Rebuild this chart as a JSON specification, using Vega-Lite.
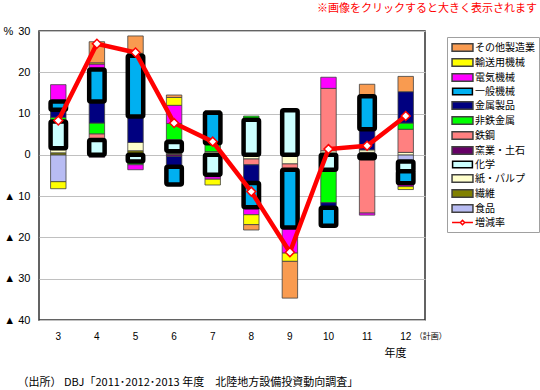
{
  "$schema": "https://vega.github.io/schema/vega-lite/v6.json",
  "width": 386,
  "height": 289,
  "autosize": {"type": "none"},
  "padding": {"left": 39, "top": 31, "right": 115, "bottom": 70},
  "background": "white",
  "config": {
    "view": {"stroke": "#303030", "strokeWidth": 1.5},
    "font": "Noto Sans CJK JP"
  },
  "title": {
    "text": "※画像をクリックすると大きく表示されます",
    "orient": "top",
    "anchor": "end",
    "frame": "group",
    "dx": 112,
    "offset": 11,
    "color": "#ff0000",
    "fontSize": 11,
    "fontWeight": "normal",
    "font": "Noto Sans CJK JP"
  },
  "datasets": {
    "contrib": [
      {"year": 3, "industry": "食品", "value": -6.5},
      {"year": 3, "industry": "繊維", "value": 0.5},
      {"year": 3, "industry": "紙・パルプ", "value": 1.1},
      {"year": 3, "industry": "化学", "value": 6.5},
      {"year": 3, "industry": "非鉄金属", "value": 1.0},
      {"year": 3, "industry": "金属製品", "value": 1.8},
      {"year": 3, "industry": "一般機械", "value": 2.0},
      {"year": 3, "industry": "電気機械", "value": 4.1},
      {"year": 3, "industry": "輸送用機械", "value": -1.7},
      {"year": 4, "industry": "化学", "value": 3.6},
      {"year": 4, "industry": "窯業・土石", "value": -0.6},
      {"year": 4, "industry": "鉄鋼", "value": 1.5},
      {"year": 4, "industry": "非鉄金属", "value": 2.6},
      {"year": 4, "industry": "金属製品", "value": 5.2},
      {"year": 4, "industry": "一般機械", "value": 7.8},
      {"year": 4, "industry": "電気機械", "value": 1.3},
      {"year": 4, "industry": "輸送用機械", "value": 0.3},
      {"year": 4, "industry": "その他製造業", "value": 5.1},
      {"year": 5, "industry": "繊維", "value": 1.0},
      {"year": 5, "industry": "紙・パルプ", "value": 2.0},
      {"year": 5, "industry": "化学", "value": -1.6},
      {"year": 5, "industry": "非鉄金属", "value": -0.8},
      {"year": 5, "industry": "金属製品", "value": 6.3},
      {"year": 5, "industry": "一般機械", "value": 14.7},
      {"year": 5, "industry": "電気機械", "value": -1.2},
      {"year": 5, "industry": "輸送用機械", "value": 0.6},
      {"year": 5, "industry": "その他製造業", "value": 4.2},
      {"year": 6, "industry": "繊維", "value": 0.3},
      {"year": 6, "industry": "紙・パルプ", "value": 0.6},
      {"year": 6, "industry": "化学", "value": 2.2},
      {"year": 6, "industry": "窯業・土石", "value": -0.4},
      {"year": 6, "industry": "鉄鋼", "value": 0.6},
      {"year": 6, "industry": "非鉄金属", "value": 3.9},
      {"year": 6, "industry": "金属製品", "value": -2.5},
      {"year": 6, "industry": "一般機械", "value": -4.3},
      {"year": 6, "industry": "電気機械", "value": 4.4},
      {"year": 6, "industry": "輸送用機械", "value": 1.9},
      {"year": 6, "industry": "その他製造業", "value": 0.6},
      {"year": 7, "industry": "繊維", "value": 0.3},
      {"year": 7, "industry": "紙・パルプ", "value": 0.5},
      {"year": 7, "industry": "化学", "value": -4.8},
      {"year": 7, "industry": "非鉄金属", "value": 2.0},
      {"year": 7, "industry": "金属製品", "value": -0.5},
      {"year": 7, "industry": "一般機械", "value": 7.4},
      {"year": 7, "industry": "電気機械", "value": -0.6},
      {"year": 7, "industry": "輸送用機械", "value": -1.4},
      {"year": 7, "industry": "その他製造業", "value": 0.5},
      {"year": 8, "industry": "紙・パルプ", "value": -1.0},
      {"year": 8, "industry": "化学", "value": 8.5},
      {"year": 8, "industry": "鉄鋼", "value": -1.4},
      {"year": 8, "industry": "非鉄金属", "value": 0.9},
      {"year": 8, "industry": "金属製品", "value": -4.4},
      {"year": 8, "industry": "一般機械", "value": -5.9},
      {"year": 8, "industry": "電気機械", "value": -1.8},
      {"year": 8, "industry": "輸送用機械", "value": -2.4},
      {"year": 8, "industry": "その他製造業", "value": -1.3},
      {"year": 9, "industry": "繊維", "value": -0.3},
      {"year": 9, "industry": "紙・パルプ", "value": -1.9},
      {"year": 9, "industry": "化学", "value": 10.8},
      {"year": 9, "industry": "鉄鋼", "value": -1.4},
      {"year": 9, "industry": "一般機械", "value": -14.0},
      {"year": 9, "industry": "電気機械", "value": -6.2},
      {"year": 9, "industry": "輸送用機械", "value": -2.0},
      {"year": 9, "industry": "その他製造業", "value": -8.9},
      {"year": 10, "industry": "紙・パルプ", "value": 1.0},
      {"year": 10, "industry": "化学", "value": -3.6},
      {"year": 10, "industry": "鉄鋼", "value": 15.1},
      {"year": 10, "industry": "非鉄金属", "value": -8.0},
      {"year": 10, "industry": "金属製品", "value": -1.2},
      {"year": 10, "industry": "一般機械", "value": -4.4},
      {"year": 10, "industry": "電気機械", "value": 2.7},
      {"year": 11, "industry": "食品", "value": 0.4},
      {"year": 11, "industry": "繊維", "value": 0.2},
      {"year": 11, "industry": "紙・パルプ", "value": 0.6},
      {"year": 11, "industry": "化学", "value": -0.8},
      {"year": 11, "industry": "鉄鋼", "value": -13.3},
      {"year": 11, "industry": "金属製品", "value": 5.0},
      {"year": 11, "industry": "一般機械", "value": 8.0},
      {"year": 11, "industry": "電気機械", "value": -0.5},
      {"year": 11, "industry": "その他製造業", "value": 2.9},
      {"year": 12, "industry": "食品", "value": -1.6},
      {"year": 12, "industry": "紙・パルプ", "value": 0.6},
      {"year": 12, "industry": "化学", "value": -2.4},
      {"year": 12, "industry": "鉄鋼", "value": 5.6},
      {"year": 12, "industry": "非鉄金属", "value": 1.5},
      {"year": 12, "industry": "金属製品", "value": 7.6},
      {"year": 12, "industry": "一般機械", "value": -2.9},
      {"year": 12, "industry": "電気機械", "value": -0.8},
      {"year": 12, "industry": "輸送用機械", "value": -0.7},
      {"year": 12, "industry": "その他製造業", "value": 3.7}
    ],
    "growth": [
      {"year": 3, "rate": 8.3},
      {"year": 4, "rate": 26.9},
      {"year": 5, "rate": 24.8},
      {"year": 6, "rate": 7.7},
      {"year": 7, "rate": 3.2},
      {"year": 8, "rate": -8.9},
      {"year": 9, "rate": -23.6},
      {"year": 10, "rate": 1.4},
      {"year": 11, "rate": 2.2},
      {"year": 12, "rate": 9.4}
    ]
  },
  "layer": [
    {
      "data": {"name": "contrib"},
      "transform": [
        {"calculate": "indexof(['食品','繊維','紙・パルプ','化学','窯業・土石','鉄鋼','非鉄金属','金属製品','一般機械','電気機械','輸送用機械','その他製造業'], datum.industry)", "as": "rank"},
        {"stack": "value", "groupby": ["year"], "sort": [{"field": "rank", "order": "ascending"}], "as": ["v0", "v1"], "offset": "zero"}
      ],
      "encoding": {
        "x": {
          "field": "year",
          "type": "ordinal",
          "sort": "ascending",
          "scale": {"paddingInner": 0.6, "paddingOuter": 0.3},
          "axis": {
            "orient": "bottom",
            "title": "年度",
            "titleX": 356,
            "titleY": 33,
            "titleAlign": "center",
            "titleBaseline": "middle",
            "titleFontSize": 11,
            "titleFontWeight": "normal",
            "titleColor": "#000000",
            "titleFont": "Noto Sans CJK JP",
            "labelAngle": 0,
            "labelFont": "Liberation Sans",
            "labelFontSize": 10,
            "labelColor": "#000000",
            "labelPadding": 11,
            "ticks": false,
            "tickSize": 0,
            "domain": false,
            "grid": false
          }
        },
        "y": {
          "field": "v0",
          "type": "quantitative",
          "scale": {"domain": [-40, 30], "nice": false, "zero": false},
          "axis": {
            "title": "%",
            "titleAngle": 0,
            "titleX": -36,
            "titleY": 0,
            "titleAlign": "left",
            "titleBaseline": "middle",
            "titleFontSize": 11,
            "titleFontWeight": "normal",
            "titleFont": "Liberation Sans",
            "titleColor": "#000000",
            "values": [-40, -30, -20, -10, 0, 10, 20, 30],
            "labelExpr": "datum.value < 0 ? '▲ ' + abs(datum.value) : datum.label",
            "labelFont": "Liberation Sans",
            "labelFontSize": 11,
            "labelColor": "#000000",
            "labelPadding": 9,
            "ticks": false,
            "tickSize": 0,
            "domain": false,
            "grid": true,
            "gridColor": "#c0c0c0",
            "gridWidth": 1
          }
        },
        "y2": {"field": "v1"},
        "color": {
          "field": "industry",
          "type": "nominal",
          "scale": {
            "domain": ["その他製造業", "輸送用機械", "電気機械", "一般機械", "金属製品", "非鉄金属", "鉄鋼", "窯業・土石", "化学", "紙・パルプ", "繊維", "食品", "増減率"],
            "range": ["#f99b50", "#ffff00", "#ff00ff", "#00b0f0", "#000080", "#00ff00", "#ff8080", "#660066", "#ccffff", "#ffffcc", "#808000", "#b8bcf3", "#ffffff"]
          },
          "legend": {
            "orient": "none",
            "legendX": 408,
            "legendY": 6,
            "title": null,
            "strokeColor": "#a0a0a0",
            "fillColor": "#ffffff",
            "padding": 4,
            "symbolSize": 121,
            "symbolOpacity": 1,
            "symbolOffset": 5,
            "labelFont": "Noto Sans CJK JP",
            "labelFontSize": 10,
            "labelColor": "#000000",
            "labelOffset": 6,
            "rowPadding": 0
          }
        }
      },
      "layer": [
        {
          "mark": {"type": "point", "filled": true, "opacity": 0, "strokeWidth": 1.6},
          "encoding": {
            "y2": null,
            "stroke": {
              "field": "industry",
              "type": "nominal",
              "scale": {
                "domain": ["その他製造業", "輸送用機械", "電気機械", "一般機械", "金属製品", "非鉄金属", "鉄鋼", "窯業・土石", "化学", "紙・パルプ", "繊維", "食品", "増減率"],
                "range": ["#404040", "#404040", "#404040", "#000000", "#404040", "#404040", "#404040", "#404040", "#000000", "#404040", "#404040", "#404040", "#ff0000"]
              },
              "legend": {
                "orient": "none",
                "legendX": 408,
                "legendY": 6,
                "title": null,
                "strokeColor": "#a0a0a0",
                "fillColor": "#ffffff",
                "padding": 4,
                "symbolSize": 121,
                "symbolOpacity": 1,
                "symbolOffset": 5,
                "labelFont": "Noto Sans CJK JP",
                "labelFontSize": 10,
                "labelColor": "#000000",
                "labelOffset": 6,
                "rowPadding": 0
              }
            },
            "shape": {
              "field": "industry",
              "type": "nominal",
              "scale": {
                "domain": ["その他製造業", "輸送用機械", "電気機械", "一般機械", "金属製品", "非鉄金属", "鉄鋼", "窯業・土石", "化学", "紙・パルプ", "繊維", "食品", "増減率"],
                "range": ["M-1.9,-0.7H1.9V0.7H-1.9Z", "M-1.9,-0.7H1.9V0.7H-1.9Z", "M-1.9,-0.7H1.9V0.7H-1.9Z", "M-1.8,-0.6H1.8V0.6H-1.8Z", "M-1.9,-0.7H1.9V0.7H-1.9Z", "M-1.9,-0.7H1.9V0.7H-1.9Z", "M-1.9,-0.7H1.9V0.7H-1.9Z", "M-1.9,-0.7H1.9V0.7H-1.9Z", "M-1.8,-0.6H1.8V0.6H-1.8Z", "M-1.9,-0.7H1.9V0.7H-1.9Z", "M-1.9,-0.7H1.9V0.7H-1.9Z", "M-1.9,-0.7H1.9V0.7H-1.9Z", "M-1.9,0H-0.4M0.4,0H1.9M-0.4,0L0,-0.4L0.4,0L0,0.4Z"]
              },
              "legend": {
                "orient": "none",
                "legendX": 408,
                "legendY": 6,
                "title": null,
                "strokeColor": "#a0a0a0",
                "fillColor": "#ffffff",
                "padding": 4,
                "symbolSize": 121,
                "symbolOpacity": 1,
                "symbolOffset": 5,
                "labelFont": "Noto Sans CJK JP",
                "labelFontSize": 10,
                "labelColor": "#000000",
                "labelOffset": 6,
                "rowPadding": 0
              }
            }
          }
        },
        {
          "transform": [{"filter": "datum.industry !== '一般機械' && datum.industry !== '化学'"}],
          "mark": {"type": "bar", "stroke": "#404040", "strokeWidth": 0.8}
        },
        {
          "transform": [{"filter": "datum.industry === '一般機械' || datum.industry === '化学'"}],
          "mark": {"type": "bar", "stroke": "#000000", "strokeWidth": 4.5, "strokeJoin": "round", "cornerRadius": 1.5}
        }
      ]
    },
    {
      "data": {"name": "growth"},
      "encoding": {
        "x": {
          "field": "year",
          "type": "ordinal",
          "sort": "ascending",
          "axis": {
            "orient": "bottom",
            "offset": -165,
            "domain": false,
            "ticks": false,
            "tickSize": 0,
            "labels": true,
            "labelExpr": "datum.value == 12 ? '（計画）' : ''",
            "labelAlign": "left",
            "labelBaseline": "middle",
            "labelOffset": 9,
            "labelPadding": 181,
            "labelAngle": 0,
            "labelFont": "Noto Sans CJK JP",
            "labelFontSize": 8,
            "labelColor": "#000000",
            "grid": false,
            "title": "（出所） DBJ「2011･2012･2013 年度　北陸地方設備投資動向調査」",
            "titleX": -22,
            "titleY": 227,
            "titleAlign": "left",
            "titleAnchor": "start",
            "titleBaseline": "middle",
            "titleFontSize": 11,
            "titleFontWeight": "normal",
            "titleColor": "#000000",
            "titleFont": "Noto Sans CJK JP"
          }
        },
        "y": {
          "field": "rate",
          "type": "quantitative",
          "axis": {
            "title": "%",
            "titleAngle": 0,
            "titleX": -36,
            "titleY": 0,
            "titleAlign": "left",
            "titleBaseline": "middle",
            "titleFontSize": 11,
            "titleFontWeight": "normal",
            "titleFont": "Liberation Sans",
            "titleColor": "#000000",
            "values": [-40, -30, -20, -10, 0, 10, 20, 30],
            "labelExpr": "datum.value < 0 ? '▲ ' + abs(datum.value) : datum.label",
            "labelFont": "Liberation Sans",
            "labelFontSize": 11,
            "labelColor": "#000000",
            "labelPadding": 9,
            "ticks": false,
            "tickSize": 0,
            "domain": false,
            "grid": true,
            "gridColor": "#c0c0c0",
            "gridWidth": 1
          }
        }
      },
      "layer": [
        {"mark": {"type": "line", "color": "#ff0000", "strokeWidth": 4.5}},
        {"mark": {"type": "point", "shape": "diamond", "size": 80, "filled": true, "fill": "#ffffff", "stroke": "#ff0000", "strokeWidth": 1.5, "opacity": 1}}
      ]
    }
  ],
  "resolve": {"axis": {"x": "independent"}}
}
